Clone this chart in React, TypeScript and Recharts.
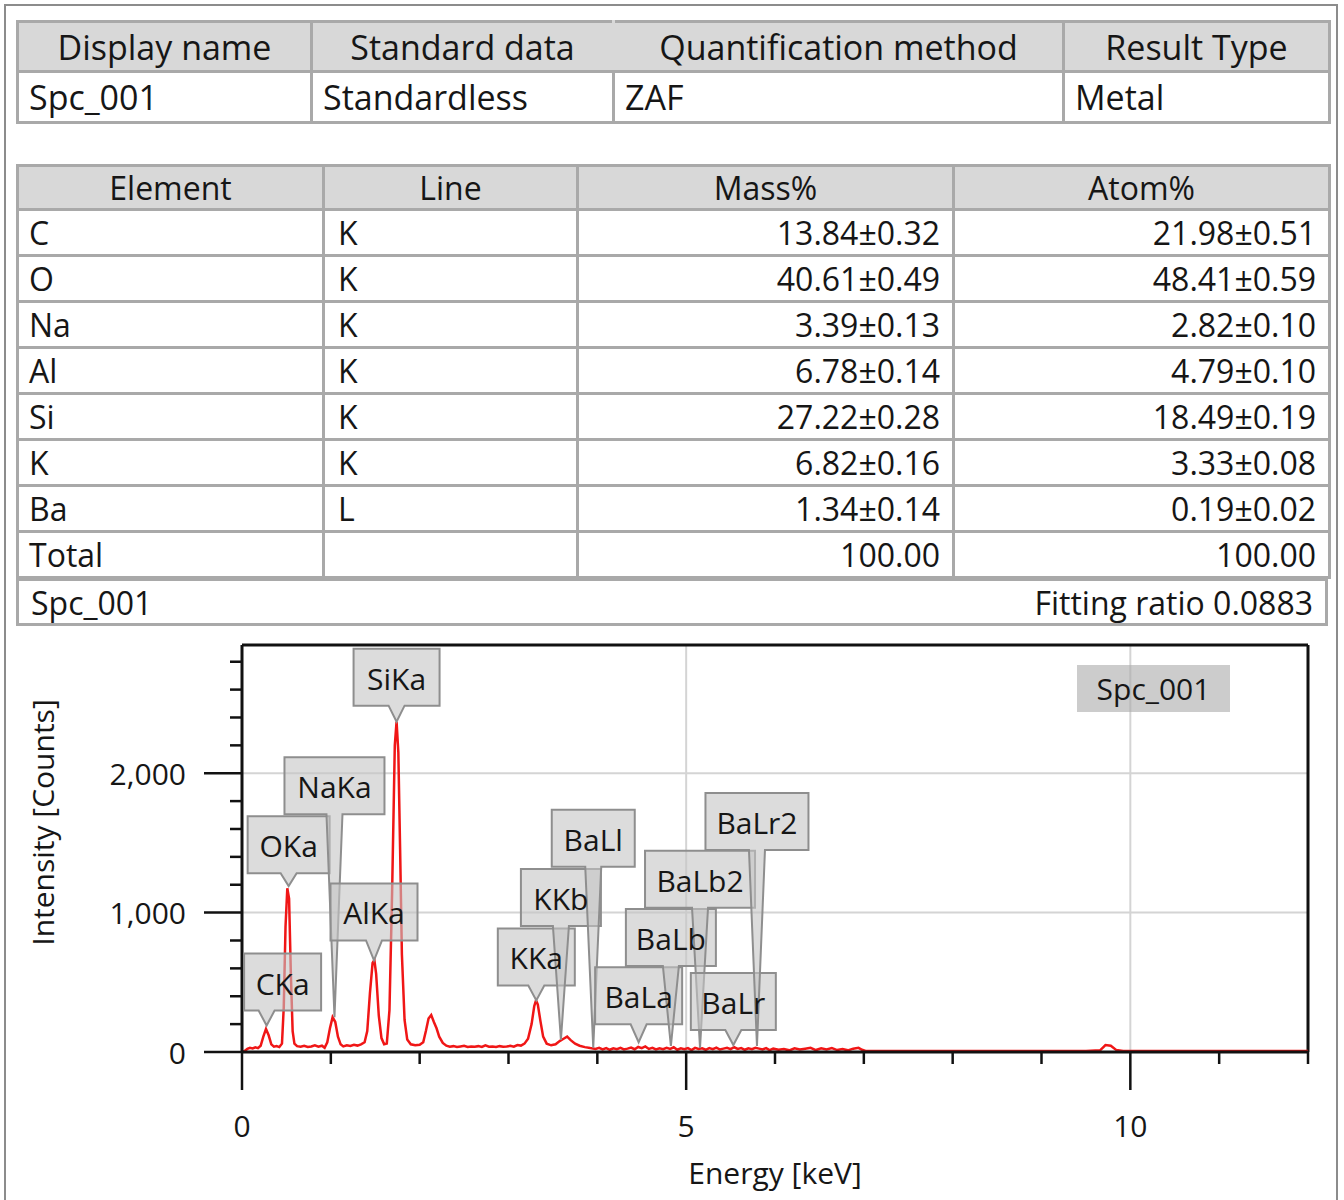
import React from 'react';
import { LineChart, Line, XAxis, YAxis, ReferenceLine, ReferenceDot } from 'recharts';

const FONT = '"Open Sans", "Noto Sans", sans-serif';
const INK = '#161616';
const RULE = '#a9a9a9';

// summary table
const SUMMARY_HEAD = ['Display name', 'Standard data', 'Quantification method', 'Result Type'];
const SUMMARY_ROW = ['Spc_001', 'Standardless', 'ZAF', 'Metal'];

// quantification results
const RESULT_HEAD = ['Element', 'Line', 'Mass%', 'Atom%'];
const ELEMENTS = ['C', 'O', 'Na', 'Al', 'Si', 'K', 'Ba', 'Total'];
const LINES = ['K', 'K', 'K', 'K', 'K', 'K', 'L', ''];
const MASS_PCT = ['13.84±0.32', '40.61±0.49', '3.39±0.13', '6.78±0.14', '27.22±0.28', '6.82±0.16', '1.34±0.14', '100.00'];
const ATOM_PCT = ['21.98±0.51', '48.41±0.59', '2.82±0.10', '4.79±0.10', '18.49±0.19', '3.33±0.08', '0.19±0.02', '100.00'];
const SPECTRUM_NAME = 'Spc_001';
const FITTING_RATIO = '0.0883';

// spectrum, in segments (keV / counts)
const LOW_KEV = [
  0.00, 0.03, 0.06, 0.09, 0.12, 0.15, 0.18, 0.21, 0.24, 0.27, 0.30, 0.33, 0.36, 0.39, 0.42, 0.45,
  0.47, 0.49, 0.51, 0.53, 0.55, 0.57, 0.59, 0.62, 0.66, 0.70, 0.74, 0.78, 0.82, 0.86, 0.90, 0.93,
  0.96, 0.99, 1.02, 1.05, 1.08, 1.11, 1.14, 1.18, 1.22, 1.26, 1.30, 1.34, 1.38, 1.41, 1.44, 1.47,
  1.49, 1.51, 1.54, 1.57, 1.60, 1.63, 1.66, 1.69, 1.72, 1.74, 1.76, 1.78, 1.80, 1.83, 1.86, 1.90,
  1.95, 2.00, 2.04, 2.07, 2.10, 2.13, 2.16, 2.19, 2.22, 2.26,
];
const LOW_COUNTS = [
  0, 8, 22, 30, 26, 34, 28, 45, 110, 165, 120, 55, 38, 42, 35, 60,
  320, 900, 1175, 1100, 560, 150, 60, 42, 38, 45, 36, 40, 48, 38, 45, 30,
  70, 170, 250, 215, 110, 55, 40, 48, 44, 52, 46, 55, 70, 150, 420, 640,
  660, 560, 260, 100, 55, 60, 300, 1150, 2200, 2370, 2150, 1450, 700, 230, 90, 55,
  48, 52, 70, 150, 240, 265, 215, 170, 110, 65,
];
const FLAT_KEV = [2.30, 2.34, 2.38, 2.42, 2.46, 2.50, 2.54, 2.58, 2.62, 2.66, 2.70, 2.74, 2.78, 2.82, 2.86, 2.90, 2.94, 2.98, 3.02, 3.06, 3.10, 3.14, 3.18];
const FLAT_COUNTS = [45, 38, 42, 36, 40, 44, 36, 40, 38, 42, 36, 48, 38, 40, 36, 42, 38, 40, 44, 38, 50, 46, 60];
const K_KEV = [3.22, 3.26, 3.29, 3.31, 3.33, 3.36, 3.39, 3.43, 3.48, 3.53, 3.58, 3.62, 3.66, 3.70, 3.75, 3.80, 3.86, 3.92];
const K_COUNTS = [95, 200, 330, 370, 340, 220, 110, 60, 48, 55, 80, 95, 110, 85, 60, 45, 35, 28];
const MID_KEV = [
  3.98, 4.02, 4.06, 4.10, 4.14, 4.18, 4.22, 4.26,
  4.30, 4.34, 4.38, 4.42, 4.46, 4.50, 4.54, 4.58,
  4.62, 4.66, 4.70, 4.74, 4.78, 4.82, 4.86, 4.90,
  4.94, 4.98, 5.02, 5.06, 5.10, 5.14, 5.18, 5.22,
  5.26, 5.30, 5.34, 5.38, 5.42, 5.46, 5.50, 5.54,
  5.58, 5.62, 5.66, 5.70, 5.74, 5.78, 5.82, 5.86,
  5.90, 5.94, 5.98, 6.04, 6.10, 6.16, 6.22, 6.28,
  6.34, 6.40, 6.46, 6.52, 6.58, 6.64, 6.70, 6.76,
  6.82, 6.88, 6.94, 6.98, 7.02,
];
const MID_COUNTS = [
  22, 30, 18, 28, 16, 26, 20, 30,
  18, 24, 32, 20, 36, 28, 40, 22,
  30, 18, 26, 20, 30, 22, 34, 16,
  26, 20, 28, 14, 30, 22, 26, 16,
  28, 20, 32, 18, 24, 30, 20, 34,
  22, 28, 16, 26, 20, 30, 24, 18,
  28, 14, 24, 16, 22, 12, 26, 18,
  24, 30, 14, 26, 18, 28, 14, 22,
  12, 24, 30, 16, 8,
];
const HIGH_KEV = [7.30, 7.60, 8.00, 8.50, 9.00, 9.50, 9.66, 9.72, 9.78, 9.84, 9.92, 10.5, 11.0, 11.5, 11.9, 12.0];
const HIGH_COUNTS = [8, 8, 8, 8, 8, 8, 12, 50, 45, 15, 8, 8, 8, 8, 8, 8];

// peak identifications (line name, energy, count at the pointer)
const PEAK_NAMES = ['CKa', 'OKa', 'NaKa', 'AlKa', 'SiKa', 'KKa', 'KKb', 'BaLl', 'BaLa', 'BaLb', 'BaLb2', 'BaLr', 'BaLr2'];
const PEAK_KEV = [0.277, 0.525, 1.041, 1.486, 1.740, 3.313, 3.590, 3.954, 4.465, 4.828, 5.156, 5.531, 5.797];
const PEAK_COUNTS = [190, 1190, 250, 657, 2370, 370, 86, 30, 70, 43, 30, 50, 43];

// tag box placement (px): rise of box bottom above pointer tip, width, horizontal shift
const TAG_LAYOUT: Record<string, { rise: number; w: number; dx?: number }> = {
  CKa: { rise: 15, w: 77, dx: 16 },
  OKa: { rise: 13, w: 82 },
  NaKa: { rise: 203, w: 100 },
  AlKa: { rise: 20, w: 87 },
  SiKa: { rise: 16, w: 86 },
  KKa: { rise: 15, w: 77 },
  KKb: { rise: 114, w: 80 },
  BaLl: { rise: 181, w: 83 },
  BaLa: { rise: 18, w: 87 },
  BaLb: { rise: 80, w: 90 },
  BaLb2: { rise: 140, w: 110 },
  BaLr: { rise: 15, w: 85 },
  BaLr2: { rise: 196, w: 103 },
};

const KEV_TICKS = [0, 1, 2, 3, 4, 5, 6, 7, 8, 9, 10, 11, 12];
const KEV_MAJOR = [0, 5, 10];
const COUNT_TICKS = [0, 200, 400, 600, 800, 1000, 1200, 1400, 1600, 1800, 2000, 2200, 2400, 2600, 2800];
const COUNT_MAX = 2920;

const ENERGY_KEV = [...LOW_KEV, ...FLAT_KEV, ...K_KEV, ...MID_KEV, ...HIGH_KEV];
const COUNTS = [...LOW_COUNTS, ...FLAT_COUNTS, ...K_COUNTS, ...MID_COUNTS, ...HIGH_COUNTS];
const spectrum = ENERGY_KEV.map((e, i) => ({ energy: e, counts: COUNTS[i] }));

function EnergyTick({ x, y, payload }: any) {
  const major = KEV_MAJOR.includes(payload.value);
  return (
    <g>
      <line x1={x} y1={y} x2={x} y2={y + (major ? 38 : 12)} stroke="#111" strokeWidth={2.5} />
      {major && (
        <text x={x} y={y + 73} textAnchor="middle" dominantBaseline="central" fontSize={30} fill={INK} fontFamily={FONT}>
          {payload.value}
        </text>
      )}
    </g>
  );
}

function CountTick({ x, y, payload }: any) {
  const major = payload.value % 1000 === 0;
  return (
    <g>
      <line x1={x} y1={y} x2={x - (major ? 38 : 12)} y2={y} stroke="#111" strokeWidth={2.5} />
      {major && (
        <text x={x - 56} y={y} textAnchor="end" dominantBaseline="central" fontSize={30} fill={INK} fontFamily={FONT}>
          {payload.value.toLocaleString('en-US')}
        </text>
      )}
    </g>
  );
}

// callout box + pointer, or just its caption (drawn in a second pass so captions stay on top)
function PeakTag({ cx, cy, name, part }: { cx: number; cy: number; name: string; part: 'box' | 'text' }) {
  const { rise, w, dx = 0 } = TAG_LAYOUT[name];
  const h = 57;
  const bottom = cy - rise;
  const top = bottom - h;
  const left = cx + dx - w / 2;
  const right = left + w;
  if (part === 'text') {
    return (
      <text x={left + w / 2} y={top + h / 2 + 1} textAnchor="middle" dominantBaseline="central" fontSize={30} fill={INK} fontFamily={FONT}>
        {name}
      </text>
    );
  }
  const d = `M${left},${top} H${right} V${bottom} H${cx + 8} L${cx},${cy} L${cx - 8},${bottom} H${left} Z`;
  return <path d={d} fill="rgba(196,196,196,0.6)" stroke="#8e8e8e" strokeWidth={2} />;
}

const cell = (extra: React.CSSProperties = {}): React.CSSProperties => ({
  border: `3px solid ${RULE}`,
  padding: '0 10px',
  whiteSpace: 'nowrap',
  overflow: 'hidden',
  ...extra,
});

const tableStyle = (top: number): React.CSSProperties => ({
  position: 'absolute', left: 16, top, width: 1312, borderCollapse: 'collapse', tableLayout: 'fixed',
  fontFamily: FONT, fontSize: 34, color: INK, lineHeight: 1,
});

function SummaryTable() {
  const widths = [294, 302, 450, 266];
  return (
    <table style={tableStyle(20)}>
      <colgroup>
        {widths.map((w, i) => <col key={i} style={{ width: w }} />)}
      </colgroup>
      <tbody>
        <tr style={{ height: 50 }}>
          {SUMMARY_HEAD.map((t, i) => (
            <td key={t} style={cell({ background: '#d8d8d8', textAlign: 'center', borderRight: i === 1 ? '3px solid #d8d8d8' : `3px solid ${RULE}` })}>{t}</td>
          ))}
        </tr>
        <tr style={{ height: 51 }}>
          {SUMMARY_ROW.map(t => <td key={t} style={cell({ background: '#fff' })}>{t}</td>)}
        </tr>
      </tbody>
    </table>
  );
}

function ResultTable() {
  const widths = [306, 254, 376, 376];
  const num = cell({ textAlign: 'right', paddingRight: 12, fontSize: 32 });
  return (
    <>
      <table style={tableStyle(164)}>
        <colgroup>
          {widths.map((w, i) => <col key={i} style={{ width: w }} />)}
        </colgroup>
        <tbody>
          <tr style={{ height: 44 }}>
            {RESULT_HEAD.map(t => <td key={t} style={cell({ background: '#d8d8d8', textAlign: 'center', fontSize: 32 })}>{t}</td>)}
          </tr>
          {ELEMENTS.map((el, i) => (
            <tr key={el} style={{ height: 46 }}>
              <td style={cell({ fontSize: 32 })}>{el}</td>
              <td style={cell({ paddingLeft: 13, fontSize: 32 })}>{LINES[i]}</td>
              <td style={num}>{MASS_PCT[i]}</td>
              <td style={num}>{ATOM_PCT[i]}</td>
            </tr>
          ))}
        </tbody>
      </table>
      <div style={{ position: 'absolute', left: 16, top: 578, width: 1312, height: 48, boxSizing: 'border-box', border: `3px solid ${RULE}`, display: 'flex', alignItems: 'center', justifyContent: 'space-between', padding: '0 12px', fontFamily: FONT, fontSize: 32, color: INK }}>
        <span>{SPECTRUM_NAME}</span>
        <span>Fitting ratio {FITTING_RATIO}</span>
      </div>
    </>
  );
}

function SpectrumChart() {
  return (
    <div style={{ position: 'absolute', left: 0, top: 630, width: 1344, height: 570 }}>
      <LineChart width={1344} height={570} data={spectrum} margin={{ top: 15, right: 36, left: 0, bottom: 0 }}>
        <XAxis
          dataKey="energy"
          type="number"
          domain={[0, 12]}
          ticks={KEV_TICKS}
          interval={0}
          allowDataOverflow
          height={148}
          tickSize={0}
          tickMargin={0}
          tickLine={false}
          tick={<EnergyTick />}
          axisLine={{ stroke: '#111', strokeWidth: 3 }}
          label={(p: any) => (
            <text x={p.viewBox.x + p.viewBox.width / 2} y={p.viewBox.y + 120} textAnchor="middle" dominantBaseline="central" fontSize={30} fill={INK} fontFamily={FONT}>
              Energy [keV]
            </text>
          )}
        />
        <YAxis
          type="number"
          domain={[0, COUNT_MAX]}
          ticks={COUNT_TICKS}
          interval={0}
          allowDataOverflow
          width={242}
          tickSize={0}
          tickMargin={0}
          tickLine={false}
          tick={<CountTick />}
          axisLine={{ stroke: '#111', strokeWidth: 3 }}
          label={(p: any) => {
            const x = p.viewBox.x + 42;
            const y = p.viewBox.y + p.viewBox.height / 2 - 26;
            return (
              <text x={x} y={y} transform={`rotate(-90, ${x}, ${y})`} textAnchor="middle" dominantBaseline="central" fontSize={30} fill={INK} fontFamily={FONT}>
                Intensity [Counts]
              </text>
            );
          }}
        />
        <ReferenceLine y={1000} stroke="#d4d4d4" strokeWidth={2} />
        <ReferenceLine y={2000} stroke="#d4d4d4" strokeWidth={2} />
        <ReferenceLine x={5} stroke="#d4d4d4" strokeWidth={2} />
        <ReferenceLine x={10} stroke="#d4d4d4" strokeWidth={2} />
        <ReferenceLine y={COUNT_MAX} stroke="#111" strokeWidth={3} />
        <ReferenceLine x={12} stroke="#111" strokeWidth={3} />
        <Line
          dataKey="counts"
          name={SPECTRUM_NAME}
          type="linear"
          stroke="#f01616"
          strokeWidth={2.5}
          dot={false}
          isAnimationActive={false}
        />
        {PEAK_NAMES.map((name, i) => (
          <ReferenceDot
            key={`box-${name}`}
            x={PEAK_KEV[i]}
            y={PEAK_COUNTS[i]}
            r={0}
            shape={(p: any) => <PeakTag cx={p.cx} cy={p.cy} name={name} part="box" />}
          />
        ))}
        {PEAK_NAMES.map((name, i) => (
          <ReferenceDot
            key={`text-${name}`}
            x={PEAK_KEV[i]}
            y={PEAK_COUNTS[i]}
            r={0}
            shape={(p: any) => <PeakTag cx={p.cx} cy={p.cy} name={name} part="text" />}
          />
        ))}
      </LineChart>
      <div style={{ position: 'absolute', left: 1077, top: 35, width: 153, height: 47, background: 'rgba(170,170,170,0.6)', display: 'flex', alignItems: 'center', justifyContent: 'center', fontFamily: FONT, fontSize: 30, color: INK }}>
        {SPECTRUM_NAME}
      </div>
    </div>
  );
}

export default function App() {
  return (
    <div style={{ position: 'relative', width: 1344, height: 1200, background: '#fff', overflow: 'hidden' }}>
      <style>{'body { margin: 0; }'}</style>
      <div style={{ position: 'absolute', left: 4, top: 4, width: 1334, height: 1210, border: '2px solid #8c8c8c', boxSizing: 'border-box' }} />
      <SummaryTable />
      <ResultTable />
      <SpectrumChart />
    </div>
  );
}
